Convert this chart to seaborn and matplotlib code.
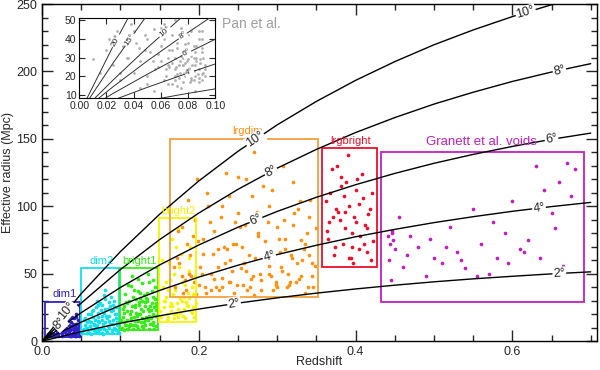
import matplotlib
matplotlib.use("Agg")
import matplotlib.pyplot as plt
import matplotlib.patches as mpatches
from matplotlib.ticker import MultipleLocator
import numpy as np
import seaborn as sns

# constant-angle curves: effective radius (Mpc) vs redshift
z_grid = [0, 0.05, 0.1, 0.15, 0.2, 0.25, 0.3, 0.35, 0.4, 0.45, 0.5, 0.55, 0.6, 0.65, 0.7]
r_2deg = [0, 7.0, 13.3, 18.8, 23.8, 28.2, 32.1, 35.6, 38.7, 41.5, 44.0, 46.2, 48.1, 49.9, 51.4]
r_4deg = [0, 14.1, 26.6, 37.6, 47.5, 56.3, 64.2, 71.1, 77.4, 82.9, 87.9, 92.3, 96.3, 99.8, 102.9]
r_6deg = [0, 21.1, 39.8, 56.5, 71.3, 84.5, 96.2, 106.7, 116.0, 124.4, 131.9, 138.5, 144.4, 149.7, 154.3]
r_8deg = [0, 28.2, 53.1, 75.3, 95.0, 112.6, 128.3, 142.2, 154.7, 165.8, 175.8, 184.6, 192.6, 199.6, 205.8]
r_10deg = [0, 35.2, 66.4, 94.1, 118.8, 140.8, 160.4, 177.8, 193.4, 207.3, 219.8, 230.8, 240.7, 249.5, 257.2]

# inset curves (Pan et al.)
z_small = [0, 0.025, 0.05, 0.075, 0.1]
rs_2deg = [0, 3.6, 7.0, 10.3, 13.3]
rs_4deg = [0, 7.3, 14.1, 20.5, 26.6]
rs_6deg = [0, 10.9, 21.1, 30.8, 39.8]
rs_8deg = [0, 14.5, 28.2, 41.0, 53.1]
rs_10deg = [0, 18.1, 35.2, 51.3, 66.4]
rs_15deg = [0, 27.2, 52.8, 76.9, 99.6]
rs_20deg = [0, 36.2, 70.4, 102.6, 132.8]

# void samples (redshift, effective radius)
dim1_z = [0.01, 0.012, 0.015, 0.018, 0.02, 0.022, 0.025, 0.027, 0.03, 0.032, 0.035, 0.037, 0.04, 0.042, 0.045, 0.046,
          0.02, 0.024, 0.028, 0.031, 0.034, 0.038, 0.041, 0.044, 0.047,
          0.015, 0.019, 0.026, 0.033, 0.036, 0.039, 0.043, 0.046,
          0.008, 0.017, 0.023, 0.029, 0.035, 0.040, 0.045, 0.03, 0.038, 0.044, 0.042, 0.036,
          0.021, 0.023, 0.026, 0.029, 0.031, 0.033, 0.036, 0.039, 0.041, 0.043, 0.046, 0.047, 0.025, 0.028, 0.034,
          0.037, 0.04, 0.044, 0.022, 0.032, 0.042, 0.047, 0.038, 0.03, 0.045, 0.035, 0.027, 0.041, 0.019, 0.016]
dim1_r = [4, 6, 5, 8, 4, 10, 6, 12, 5, 9, 7, 14, 5, 11, 8, 16,
          13, 16, 19, 10, 21, 18, 24, 13, 6,
          11, 9, 7, 15, 4, 9, 20, 27,
          5, 14, 7, 22, 12, 6, 10, 26, 25, 18, 4, 8,
          5, 8, 4, 7, 10, 5, 9, 6, 8, 4, 7, 11, 9, 11, 6,
          4, 13, 6, 7, 13, 9, 4, 11, 8, 13, 17, 10, 17, 6, 4]

dim2_z = [0.052, 0.055, 0.058, 0.06, 0.062, 0.065, 0.067, 0.07, 0.072, 0.075, 0.077, 0.08, 0.082, 0.085, 0.087, 0.09, 0.092, 0.095, 0.097,
          0.053, 0.057, 0.061, 0.064, 0.068, 0.071, 0.074, 0.078, 0.081, 0.084, 0.088, 0.091, 0.094, 0.096,
          0.056, 0.059, 0.063, 0.066, 0.069, 0.073, 0.076, 0.079, 0.083, 0.086, 0.089, 0.093,
          0.06, 0.07, 0.074, 0.08, 0.084, 0.088, 0.078, 0.072, 0.092, 0.066,
          0.051, 0.054, 0.057, 0.059, 0.061, 0.063, 0.066, 0.068, 0.071, 0.073, 0.076, 0.079, 0.081, 0.083, 0.086,
          0.089, 0.091, 0.093, 0.096, 0.098, 0.055, 0.062, 0.069, 0.075, 0.082, 0.087, 0.094, 0.058, 0.065, 0.072,
          0.079, 0.085, 0.09, 0.095, 0.07, 0.077]
dim2_r = [8, 12, 6, 15, 9, 18, 7, 12, 21, 10, 16, 24, 8, 19, 13, 27, 10, 17, 7,
          16, 6, 11, 22, 9, 15, 28, 13, 31, 11, 22, 16, 25, 12,
          10, 20, 14, 8, 25, 6, 19, 34, 17, 29, 8, 20,
          6, 30, 9, 38, 24, 33, 5, 18, 30, 12,
          6, 9, 14, 7, 11, 5, 13, 16, 8, 14, 6, 9, 14, 7, 10,
          6, 13, 9, 14, 6, 17, 20, 11, 23, 19, 26, 8, 10, 23, 27,
          21, 15, 23, 20, 7, 27]

bright1_z = [0.102, 0.105, 0.108, 0.11, 0.113, 0.115, 0.118, 0.12, 0.123, 0.125, 0.128, 0.13, 0.133, 0.135, 0.138, 0.14, 0.143, 0.145,
             0.103, 0.107, 0.111, 0.114, 0.117, 0.121, 0.124, 0.127, 0.131, 0.134, 0.137, 0.141, 0.144, 0.146,
             0.104, 0.109, 0.112, 0.116, 0.119, 0.122, 0.126, 0.129, 0.132, 0.136, 0.139, 0.142,
             0.106, 0.11, 0.115, 0.12, 0.125, 0.13, 0.135, 0.14, 0.145, 0.118, 0.128, 0.138, 0.108, 0.122, 0.134, 0.142,
             0.101, 0.104, 0.106, 0.109, 0.112, 0.114, 0.117, 0.119, 0.122, 0.124, 0.127, 0.129, 0.132, 0.134, 0.137,
             0.139, 0.142, 0.144, 0.146, 0.103, 0.107, 0.111, 0.116, 0.121, 0.126, 0.131, 0.136, 0.141, 0.113, 0.123,
             0.133, 0.143, 0.105, 0.115, 0.125, 0.135, 0.145]
bright1_r = [10, 14, 22, 9, 17, 26, 12, 31, 15, 20, 11, 34, 18, 24, 13, 28, 9, 19,
             18, 12, 30, 16, 38, 11, 27, 43, 16, 36, 22, 12, 40, 26,
             26, 9, 20, 33, 15, 46, 24, 10, 29, 44, 17, 33,
             35, 42, 48, 21, 36, 14, 50, 37, 23, 27, 30, 26, 16, 20, 31, 45,
             16, 21, 12, 28, 13, 22, 18, 25, 9, 29, 17, 22, 12, 30, 19,
             23, 14, 31, 11, 24, 29, 11, 9, 19, 14, 26, 9, 20, 41, 37,
             32, 25, 8, 12, 32, 16, 28]

bright2_z = [0.152, 0.155, 0.158, 0.16, 0.163, 0.165, 0.168, 0.17, 0.173, 0.175, 0.178, 0.18, 0.183, 0.185, 0.188, 0.19, 0.193, 0.195,
             0.154, 0.159, 0.162, 0.167, 0.171, 0.176, 0.181, 0.186, 0.191, 0.194,
             0.157, 0.164, 0.169, 0.174, 0.179, 0.184, 0.189, 0.153, 0.161, 0.166, 0.172, 0.177, 0.182, 0.187, 0.192,
             0.151, 0.156, 0.161, 0.166, 0.171, 0.176, 0.181, 0.186, 0.191, 0.196, 0.158, 0.168, 0.178, 0.188, 0.163, 0.173]
bright2_r = [18, 25, 33, 20, 45, 28, 17, 38, 24, 55, 30, 19, 42, 27, 62, 22, 35, 48,
             40, 16, 58, 35, 70, 21, 33, 26, 40, 18,
             30, 22, 50, 83, 44, 29, 70, 60, 38, 76, 28, 65, 17, 52, 25,
             22, 30, 18, 26, 20, 32, 24, 36, 21, 28, 44, 20, 48, 32, 26, 18]

lrgdim_z = [0.17, 0.175, 0.18, 0.185, 0.19, 0.195, 0.2, 0.205, 0.21, 0.215, 0.22, 0.225, 0.23, 0.235, 0.24, 0.245, 0.25, 0.255,
            0.26, 0.265, 0.27, 0.275, 0.28, 0.285, 0.29, 0.295, 0.3, 0.305, 0.31, 0.315, 0.32, 0.325, 0.33, 0.335, 0.34, 0.345,
            0.172, 0.182, 0.192, 0.202, 0.212, 0.222, 0.232, 0.242, 0.252, 0.262, 0.272, 0.282, 0.292, 0.302, 0.312, 0.322, 0.332, 0.342,
            0.178, 0.188, 0.198, 0.208, 0.218, 0.228, 0.238, 0.248, 0.258, 0.268, 0.278, 0.288, 0.298, 0.308, 0.318, 0.328, 0.338, 0.348,
            0.186, 0.206, 0.226, 0.246, 0.266, 0.286, 0.306, 0.326, 0.346, 0.196, 0.216, 0.236, 0.256, 0.276, 0.296, 0.316, 0.336,
            0.168, 0.174, 0.179, 0.184, 0.189, 0.194, 0.199, 0.204, 0.209, 0.214, 0.219, 0.224, 0.229, 0.234, 0.239, 0.244,
            0.249, 0.254, 0.259, 0.264, 0.269, 0.274, 0.279, 0.284, 0.289, 0.294, 0.299, 0.304, 0.309, 0.314, 0.319, 0.324,
            0.329, 0.334, 0.339, 0.344, 0.349, 0.26, 0.27, 0.28, 0.29, 0.30, 0.31, 0.32, 0.33, 0.34, 0.25, 0.24, 0.23]
lrgdim_r = [40, 58, 36, 72, 48, 90, 42, 65, 110, 38, 82, 55, 47, 125, 60, 36, 95, 70,
            52, 40, 140, 78, 45, 62, 100, 38, 85, 55, 68, 42, 118, 58, 75, 36, 92, 48,
            62, 45, 78, 55, 100, 40, 70, 52, 85, 38, 62, 115, 48, 76, 40, 95, 60, 105,
            85, 50, 120, 40, 65, 92, 44, 72, 58, 108, 50, 88, 42, 130, 64, 46, 80, 56,
            105, 76, 38, 88, 46, 66, 52, 98, 40, 35, 50, 68, 42, 80, 60, 44, 72,
            55, 82, 48, 38, 64, 44, 74, 50, 36, 88, 46, 68, 40, 58, 108, 72,
            42, 54, 86, 64, 48, 96, 38, 74, 56, 112, 44, 66, 90, 50, 62, 44,
            104, 68, 40, 58, 84, 120, 34, 88, 50, 40, 76, 86, 48, 64, 122, 44, 100]

lrgbright_z = [0.362, 0.366, 0.37, 0.374, 0.378, 0.382, 0.386, 0.39, 0.394, 0.398, 0.402, 0.406, 0.41, 0.414, 0.418, 0.422,
               0.364, 0.368, 0.372, 0.376, 0.38, 0.384, 0.388, 0.392, 0.396, 0.4, 0.404, 0.408, 0.412, 0.416, 0.42,
               0.365, 0.375, 0.385, 0.395, 0.405, 0.415, 0.371, 0.381, 0.391, 0.401, 0.411, 0.421, 0.387, 0.397]
lrgbright_r = [104, 88, 128, 70, 96, 115, 84, 138, 62, 92, 120, 78, 106, 66, 98, 74,
               82, 110, 64, 130, 90, 72, 118, 100, 80, 112, 68, 124, 86, 94, 60,
               76, 98, 108, 70, 102, 84, 92, 122, 62, 88, 72, 110, 96, 58]

granett_z = [0.442, 0.444, 0.446, 0.448, 0.45, 0.445, 0.447, 0.443, 0.455, 0.46, 0.465, 0.47, 0.48, 0.49, 0.5, 0.51, 0.52,
             0.53, 0.54, 0.55, 0.56, 0.57, 0.58, 0.59, 0.6, 0.61, 0.62, 0.63, 0.64, 0.65, 0.66, 0.67, 0.675, 0.68,
             0.495, 0.515, 0.535, 0.555, 0.575, 0.595, 0.615, 0.635, 0.655, 0.665]
granett_r = [78, 72, 80, 75, 68, 45, 82, 60, 92, 55, 64, 78, 70, 48, 62, 58, 85,
             66, 54, 98, 72, 50, 62, 80, 104, 68, 75, 130, 112, 95, 118, 132, 108, 128,
             76, 70, 60, 48, 88, 58, 66, 62, 84, 56]

pan_z = [0.01, 0.015, 0.02, 0.022, 0.025, 0.028, 0.03, 0.032, 0.035, 0.038, 0.04, 0.042, 0.045, 0.048, 0.05, 0.052,
         0.055, 0.058, 0.06, 0.062, 0.065, 0.068, 0.07, 0.072, 0.075, 0.078, 0.08, 0.082, 0.085, 0.088, 0.09, 0.091,
         0.03, 0.036, 0.044, 0.05, 0.056, 0.06, 0.064, 0.068, 0.072, 0.076, 0.08, 0.084, 0.088, 0.09,
         0.062, 0.066, 0.07, 0.074, 0.078, 0.082, 0.086, 0.09, 0.064, 0.068, 0.072, 0.076, 0.08, 0.084, 0.088, 0.092,
         0.07, 0.074, 0.078, 0.082, 0.086, 0.09, 0.073, 0.077, 0.081, 0.085, 0.089, 0.076, 0.08, 0.084, 0.088, 0.092,
         0.045, 0.055, 0.065, 0.075, 0.085, 0.04, 0.05, 0.06, 0.07, 0.08, 0.09,
         0.071, 0.073, 0.075, 0.077, 0.079, 0.081, 0.083, 0.085, 0.087, 0.089, 0.091, 0.066, 0.068, 0.072, 0.078,
         0.082, 0.086, 0.09, 0.058, 0.054, 0.048, 0.062, 0.074, 0.08, 0.088, 0.092, 0.084, 0.076, 0.07, 0.065]
pan_r = [29, 22, 34, 40, 26, 44, 18, 36, 30, 48, 22, 38, 28, 42, 20, 33,
         45, 25, 36, 48, 30, 42, 24, 38, 46, 20, 32, 44, 26, 40, 18, 30,
         22, 30, 35, 16, 24, 28, 20, 34, 15, 26, 22, 36, 24, 40,
         18, 25, 30, 22, 27, 19, 28, 33, 24, 16, 21, 26, 29, 23, 17, 24,
         20, 28, 23, 18, 30, 21, 26, 32, 24, 20, 27, 17, 22, 30, 19, 26,
         14, 12, 16, 14, 12, 44, 40, 46, 50, 38, 44,
         25, 19, 31, 22, 28, 17, 26, 33, 21, 29, 22, 34, 27, 35, 37,
         31, 36, 35, 32, 28, 34, 40, 41, 42, 44, 20, 18, 30, 18, 26]

sns.set_style("ticks")
plt.rcParams['font.family'] = ['Liberation Sans', 'DejaVu Sans']

fig = plt.figure(figsize=(6, 3.7), dpi=100)
ax = fig.add_axes([0.07, 0.078, 0.925, 0.911])
ax.set_xlim(0, 0.708)
ax.set_ylim(0, 250)

samples = [
    # name, z, r, point colour, box colour, box (z0, z1, r0, r1), label pos, label size
    ("dim1", dim1_z, dim1_r, "#3020c8", "#3020c8", (0.004, 0.048, 3, 29), (0.013, 31), 8),
    ("dim2", dim2_z, dim2_r, "#10e0f0", "#10e0f0", (0.05, 0.098, 5, 54), (0.06, 56), 8),
    ("bright1", bright1_z, bright1_r, "#33ee11", "#33ee11", (0.099, 0.148, 8, 54), (0.103, 56), 8),
    ("bright2", bright2_z, bright2_r, "#f5f500", "#f5f500", (0.149, 0.197, 14, 91), (0.152, 93), 8),
    ("lrgdim", lrgdim_z, lrgdim_r, "#ff9010", "#f0a040", (0.163, 0.352, 33, 150), (0.243, 152), 8),
    ("lrgbright", lrgbright_z, lrgbright_r, "#e8102a", "#e8102a", (0.357, 0.427, 55, 143), (0.368, 145), 8),
    ("Granett et al. voids", granett_z, granett_r, "#c020c0", "#c020c0", (0.433, 0.692, 29, 140), (0.49, 143), 9.5),
]

for name, zs, rs, pc, bc, box, lpos, fs in samples:
    sns.scatterplot(x=zs, y=rs, color=pc, s=7, linewidth=0, ax=ax, zorder=2)
    z0, z1, r0, r1 = box
    ax.add_patch(mpatches.Rectangle((z0, r0), z1 - z0, r1 - r0, fill=False,
                                    edgecolor=bc, linewidth=1.3, zorder=3))
    ax.text(lpos[0], lpos[1], name, color=pc, fontsize=fs, ha="left", va="bottom", zorder=5)


def label_curve(a, zs, rs, z0, text, fs):
    dz = 0.004 if a is ax else 0.001
    r0 = np.interp(z0, zs, rs)
    p1 = a.transData.transform((z0 - dz, np.interp(z0 - dz, zs, rs)))
    p2 = a.transData.transform((z0 + dz, np.interp(z0 + dz, zs, rs)))
    ang = np.degrees(np.arctan2(p2[1] - p1[1], p2[0] - p1[0]))
    a.text(z0, r0, text, rotation=ang, rotation_mode="anchor", ha="center", va="center",
           fontsize=fs, zorder=6, bbox=dict(fc="white", ec="none", pad=0.6))


curves = [(r_2deg, "2°", [0.245, 0.66]), (r_4deg, "4°", [0.29, 0.634]),
          (r_6deg, "6°", [0.273, 0.65]), (r_8deg, "8°", [0.023, 0.292, 0.66]),
          (r_10deg, "10°", [0.032, 0.272, 0.617])]
for rs, lab, spots in curves:
    sns.lineplot(x=z_grid, y=rs, color="black", linewidth=1.0, ax=ax, zorder=4, sort=False, estimator=None)
for rs, lab, spots in curves:
    for zl in spots:
        label_curve(ax, z_grid, rs, zl, lab, 9)

ax.text(0.23, 235, "Pan et al.", color="#a0a0a0", fontsize=10, ha="left", va="center")

ax.xaxis.set_major_locator(MultipleLocator(0.2))
ax.xaxis.set_minor_locator(MultipleLocator(0.05))
ax.yaxis.set_major_locator(MultipleLocator(50))
ax.yaxis.set_minor_locator(MultipleLocator(10))
ax.tick_params(which="both", direction="in", top=True, right=True, labelsize=9, width=1)
ax.tick_params(which="major", length=8)
ax.tick_params(which="minor", length=4)
ax.set_xticks([0, 0.2, 0.4, 0.6])
ax.set_xticklabels(["0.0", "0.2", "0.4", "0.6"])
ax.set_xlabel("Redshift", fontsize=9)
ax.set_ylabel("Effective radius (Mpc)", fontsize=9)
ax.xaxis.set_label_coords(0.5, -0.045)
ax.yaxis.set_label_coords(-0.05, 0.5)
for sp in ax.spines.values():
    sp.set_linewidth(1)
    sp.set_color("black")

# inset
axi = fig.add_axes([0.132, 0.735, 0.227, 0.216])
axi.set_xlim(0, 0.1)
axi.set_ylim(8.4, 51)
sns.scatterplot(x=pan_z, y=pan_r, color="#b0b0b0", s=4, linewidth=0, ax=axi, zorder=2)
inset_curves = [(rs_2deg, None, None), (rs_4deg, "4°", 0.081), (rs_6deg, "6°", 0.079),
                (rs_8deg, "8°", 0.076), (rs_10deg, "10°", 0.063), (rs_15deg, "15°", 0.037),
                (rs_20deg, "20°", 0.027)]
for rs, lab, zl in inset_curves:
    sns.lineplot(x=z_small, y=rs, color="#303030", linewidth=0.7, ax=axi, zorder=3, sort=False, estimator=None)
for rs, lab, zl in inset_curves:
    if lab:
        label_curve(axi, z_small, rs, zl, lab, 6)
axi.set_xticks([0, 0.02, 0.04, 0.06, 0.08, 0.1])
axi.set_xticklabels(["0.00", "0.02", "0.04", "0.06", "0.08", "0.10"])
axi.set_yticks([10, 20, 30, 40, 50])
axi.tick_params(which="both", direction="in", top=True, right=True, labelsize=7.5, length=4, width=0.8, pad=2)
for sp in axi.spines.values():
    sp.set_linewidth(0.8)
    sp.set_color("black")

fig.savefig("out.png", dpi=100)
